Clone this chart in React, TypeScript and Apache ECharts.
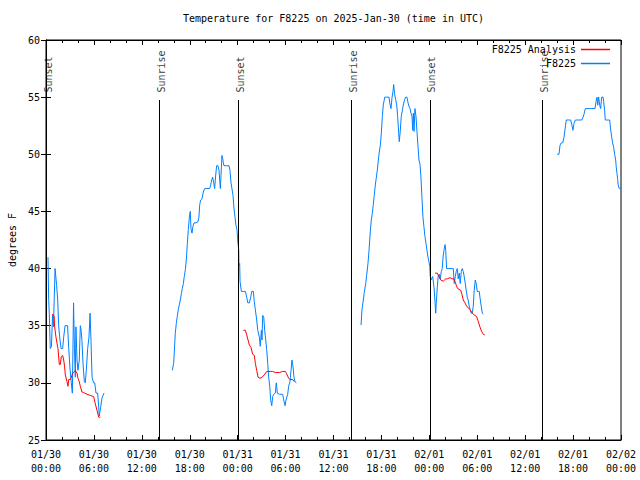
import React, { useEffect, useRef } from "react";
import * as echarts from "echarts";

// Time values are minutes after 2025-01-30 00:00 UTC; temperatures in degrees F.
const TITLE = "Temperature for F8225 on 2025-Jan-30 (time in UTC)";
const Y_NAME = "degrees F";
const OBS_NAME = "F8225";
const ANA_NAME = "F8225 Analysis";

const yTicks = { min: 25, max: 60, step: 5 };
const xRange = { min: 0, max: 4320, step: 360 };

const sunEvents: [number, string][] = [
  [2, "Sunset"],
  [852, "Sunrise"],
  [1443, "Sunset"],
  [2294, "Sunrise"],
  [2884, "Sunset"],
  [3731, "Sunrise"],
];
const sunLineTop = 54.75;

const obs1: [number, number][] = [
  [15, 41.0], [20, 37.3], [25, 36.0], [32, 33.0], [41, 33.2], [49, 35.9], [56, 34.9],
  [68, 40.0], [73, 40.0], [80, 38.5], [88, 37.25], [95, 35.0], [103, 34.0], [113, 33.0],
  [125, 33.0], [133, 34.0], [143, 35.0], [162, 35.0], [171, 33.0], [180, 31.3], [190, 30.0],
  [198, 29.1], [207, 37.0], [214, 33.0], [220, 30.5], [225, 34.9], [233, 32.0], [240, 31.1],
  [250, 32.0], [258, 35.0], [265, 34.5], [270, 33.7], [278, 31.7], [288, 30.1], [295, 30.0],
  [303, 31.1], [313, 33.0], [323, 34.0], [331, 36.1], [338, 33.7], [346, 30.5], [358, 30.0],
  [366, 30.0], [376, 29.1], [388, 29.1], [396, 27.9], [400, 27.1], [411, 27.9], [421, 28.7],
  [436, 29.1],
];
const obs2: [number, number][] = [
  [949, 31.1], [959, 31.7], [964, 32.7], [971, 34.3], [979, 35.2], [986, 35.8], [994, 36.4],
  [1001, 36.8], [1009, 37.25], [1017, 37.8], [1024, 38.25], [1032, 38.7], [1039, 39.3],
  [1047, 39.9], [1054, 40.75], [1062, 42.2], [1069, 43.4], [1077, 44.5], [1084, 45.0],
  [1089, 43.5], [1097, 43.1], [1104, 43.7], [1112, 44.0], [1127, 44.0], [1142, 44.1],
  [1149, 44.5], [1155, 45.6], [1162, 46.0], [1172, 46.1], [1182, 46.7], [1192, 47.0],
  [1204, 47.0], [1230, 47.0], [1237, 47.3], [1245, 47.75], [1252, 48.0], [1260, 47.5],
  [1267, 47.0], [1275, 48.2], [1282, 49.0], [1292, 49.0], [1300, 48.6], [1305, 47.75],
  [1310, 47.0], [1315, 48.2], [1322, 49.9], [1328, 49.6], [1332, 49.3], [1337, 49.0],
  [1355, 49.0], [1375, 49.0], [1382, 48.6], [1390, 47.5], [1397, 47.0], [1405, 46.4],
  [1412, 45.3], [1420, 44.5], [1427, 43.8], [1435, 43.4], [1440, 42.5], [1448, 41.6],
  [1450, 40.3], [1455, 40.45], [1458, 38.85], [1468, 38.0], [1483, 38.0], [1498, 38.0],
  [1508, 37.5], [1516, 37.0], [1528, 37.0], [1538, 37.5], [1546, 38.0], [1558, 38.0],
  [1565, 37.1], [1573, 36.4], [1583, 35.5], [1591, 34.6], [1603, 34.0], [1610, 33.2],
  [1618, 34.6], [1623, 33.75], [1628, 35.9], [1636, 35.75], [1643, 34.6], [1651, 33.75],
  [1658, 32.9], [1666, 31.7], [1673, 30.5], [1681, 29.7], [1688, 28.5], [1696, 28.0],
  [1703, 28.8], [1711, 29.0], [1723, 29.1], [1730, 30.0], [1738, 29.1], [1753, 29.0],
  [1766, 29.0], [1778, 29.0], [1786, 28.5], [1796, 28.0], [1803, 28.5], [1816, 29.0],
  [1823, 29.7], [1833, 30.1], [1841, 31.1], [1848, 32.0], [1856, 31.4], [1863, 30.5],
  [1871, 30.1], [1881, 30.0],
];
const obs3: [number, number][] = [
  [2367, 35.06], [2374, 36.4], [2384, 37.25], [2391, 37.9], [2402, 38.7], [2409, 39.4],
  [2419, 40.45], [2427, 41.6], [2436, 43.2], [2444, 44.25], [2451, 44.8], [2459, 45.6],
  [2466, 46.4], [2474, 47.3], [2481, 47.9], [2489, 48.6], [2497, 49.5], [2504, 50.2],
  [2512, 50.8], [2519, 51.8], [2527, 53.3], [2534, 54.3], [2545, 55.0], [2560, 55.0],
  [2577, 55.0], [2584, 54.4], [2592, 54.0], [2600, 55.0], [2607, 55.5], [2612, 56.1],
  [2620, 55.2], [2627, 54.8], [2635, 54.3], [2642, 53.3], [2650, 51.8], [2654, 51.1],
  [2662, 52.1], [2669, 53.3], [2677, 53.8], [2684, 54.3], [2695, 54.8], [2702, 55.0],
  [2712, 55.0], [2720, 54.5], [2727, 54.2], [2735, 54.0], [2742, 53.6], [2750, 53.3],
  [2755, 52.1], [2760, 53.6], [2765, 52.0], [2772, 54.0], [2780, 53.3], [2787, 52.0],
  [2795, 50.7], [2802, 49.5], [2810, 49.1], [2817, 48.0], [2825, 46.1], [2832, 44.5],
  [2840, 43.6], [2847, 42.8], [2855, 42.2], [2862, 41.6], [2870, 41.0], [2877, 40.6],
  [2883, 40.2], [2887, 39.3], [2892, 39.0], [2905, 39.3], [2915, 38.4], [2923, 37.0],
  [2928, 36.1], [2932, 37.0], [2940, 38.4], [2947, 39.4], [2955, 39.5], [2962, 39.1],
  [2970, 39.75], [2977, 40.0], [2983, 41.0], [2990, 41.6], [2998, 42.1], [3003, 41.6],
  [3010, 40.0], [3022, 40.0], [3048, 40.0], [3060, 40.0], [3067, 38.7], [3075, 39.3],
  [3082, 39.75], [3090, 40.0], [3097, 39.1], [3105, 39.6], [3112, 38.7], [3120, 39.75],
  [3127, 40.0], [3135, 39.75], [3142, 39.3], [3150, 38.7], [3157, 38.1], [3165, 37.5],
  [3172, 37.25], [3180, 36.7], [3187, 36.4], [3195, 36.1], [3202, 36.1], [3210, 36.7],
  [3217, 38.1], [3225, 39.0], [3232, 38.7], [3240, 38.0], [3255, 38.0], [3263, 37.25],
  [3270, 36.7], [3278, 36.1], [3285, 36.0],
];
const obs4: [number, number][] = [
  [3841, 50.0], [3854, 50.0], [3862, 50.8], [3871, 51.0], [3882, 51.0], [3892, 51.5],
  [3902, 52.4], [3909, 53.0], [3924, 53.0], [3942, 53.0], [3952, 52.5], [3959, 52.1],
  [3967, 52.7], [3977, 53.0], [3999, 53.0], [4025, 53.0], [4034, 53.2], [4042, 53.5],
  [4052, 54.0], [4074, 54.0], [4100, 54.0], [4125, 54.0], [4132, 54.6], [4140, 55.0],
  [4145, 54.3], [4152, 55.0], [4160, 54.3], [4167, 54.0], [4175, 55.0], [4185, 55.0],
  [4190, 54.6], [4197, 53.8], [4202, 53.0], [4212, 53.0], [4224, 53.0], [4235, 53.0],
  [4242, 52.2], [4250, 51.5], [4257, 51.0], [4265, 50.6], [4272, 50.0], [4280, 49.5],
  [4284, 48.9], [4290, 48.3], [4295, 47.8], [4299, 47.3], [4307, 47.0], [4317, 47.0],
];

const ana1: [number, number][] = [
  [45, 36.0], [60, 35.9], [65, 34.9], [75, 34.0], [90, 33.0], [100, 31.6], [107, 31.6],
  [115, 32.3], [125, 32.4], [133, 32.0], [140, 31.4], [145, 30.7], [158, 30.1], [165, 29.7],
  [171, 30.3], [183, 30.3], [190, 30.5], [201, 30.85], [213, 31.0], [220, 31.1], [233, 30.85],
  [240, 30.4], [250, 30.1], [258, 29.7], [270, 29.2], [283, 29.15], [308, 29.0], [333, 28.9],
  [358, 28.8], [370, 28.2], [383, 27.6], [396, 27.0], [408, 27.0],
];
const ana2: [number, number][] = [
  [1483, 34.6], [1498, 34.6], [1508, 34.2], [1518, 33.75], [1528, 33.3], [1540, 33.1],
  [1553, 32.5], [1565, 32.4], [1573, 31.7], [1583, 31.1], [1593, 30.5], [1608, 30.4],
  [1623, 30.5], [1640, 30.7], [1658, 31.0], [1673, 31.0], [1688, 31.0], [1703, 31.0],
  [1723, 30.9], [1753, 30.9], [1778, 31.0], [1798, 31.0], [1808, 30.8], [1823, 30.4],
  [1833, 30.3], [1853, 30.3], [1865, 30.1],
];
const ana3: [number, number][] = [
  [2923, 39.6], [2940, 39.6], [2953, 39.3], [2965, 39.0], [2985, 38.9], [3003, 39.1],
  [3015, 39.1], [3035, 39.2], [3055, 39.1], [3065, 39.1], [3075, 38.8], [3086, 38.4],
  [3098, 38.2], [3116, 38.1], [3126, 37.7], [3135, 37.25], [3148, 37.0], [3160, 36.7],
  [3172, 36.6], [3185, 36.4], [3198, 36.2], [3210, 36.0], [3223, 35.9], [3235, 35.8],
  [3247, 35.4], [3260, 34.9], [3273, 34.5], [3285, 34.25], [3296, 34.2],
];

const obsParts = [obs1, obs2, obs3, obs4];
const anaParts = [ana1, ana2, ana3];

const OBS_COLOR = "#0080ff";
const ANA_COLOR = "#ff0000";
const FONT = "DejaVu Sans Mono";

function pad(n: number) {
  return n < 10 ? "0" + n : "" + n;
}
function fmtX(v: number) {
  const dayIdx = Math.floor(v / 1440);
  const mins = v - dayIdx * 1440;
  let month = 1;
  let day = 30 + dayIdx;
  if (day > 31) {
    month = 2;
    day -= 31;
  }
  return pad(month) + "/" + pad(day) + "\n" + pad(Math.floor(mins / 60)) + ":" + pad(mins % 60);
}

export default function App() {
  const ref = useRef<HTMLDivElement>(null);
  useEffect(() => {
    if (!ref.current) return;
    const chart = echarts.init(ref.current, undefined, { renderer: "svg" });
    const txt = { fontFamily: FONT, fontSize: 10, color: "#000" };
    const lineSeries = (name: string, color: string, data: [number, number][]) => ({
      type: "line",
      name,
      data,
      showSymbol: false,
      symbol: "none",
      color,
      lineStyle: { color, width: 1 },
      itemStyle: { color },
      silent: true,
      z: 3,
    });
    const xBase = {
      type: "value",
      min: xRange.min,
      max: xRange.max,
      interval: xRange.step,
      splitLine: { show: false },
      axisLine: { show: true, lineStyle: { color: "#000", width: 1 } },
      axisTick: { show: true, inside: true, length: 5, lineStyle: { color: "#000" } },
      minorTick: { show: true, splitNumber: 3, length: 3, lineStyle: { color: "#000" } },
    };
    const yBase = {
      type: "value",
      min: yTicks.min,
      max: yTicks.max,
      interval: yTicks.step,
      splitLine: { show: false },
      axisLine: { show: true, lineStyle: { color: "#000", width: 1 } },
      axisTick: { show: true, inside: true, length: 5, lineStyle: { color: "#000" } },
    };
    chart.setOption({
      animation: false,
      backgroundColor: "#fff",
      title: {
        text: TITLE,
        left: 183,
        top: 13,
        padding: 0,
        textStyle: { ...txt, fontWeight: "normal" },
      },
      legend: {
        data: [ANA_NAME, OBS_NAME],
        orient: "vertical",
        align: "right",
        right: 30,
        top: 43,
        padding: 0,
        itemGap: 1,
        itemWidth: 29,
        itemHeight: 1.5,
        icon: "rect",
        textStyle: { ...txt, lineHeight: 13 },
        selectedMode: false,
      },
      grid: {
        left: 46,
        right: 19,
        top: 40,
        bottom: 40,
        show: true,
        borderColor: "#000",
        borderWidth: 1,
        containLabel: false,
        outerBoundsMode: "none",
      },
      xAxis: [
        {
          ...xBase,
          position: "bottom",
          axisLabel: {
            ...txt,
            margin: 7,
            lineHeight: 14,
            showMinLabel: true,
            showMaxLabel: true,
            formatter: (v: number) => fmtX(v),
          },
        },
        { ...xBase, position: "top", axisLabel: { show: false } },
      ],
      yAxis: [
        {
          ...yBase,
          position: "left",
          name: Y_NAME,
          nameLocation: "middle",
          nameRotate: 90,
          nameGap: 29,
          nameTextStyle: txt,
          axisLabel: { ...txt, margin: 6 },
        },
        { ...yBase, position: "right", axisLabel: { show: false } },
      ],
      series: [
        ...obsParts.map((p) => lineSeries(OBS_NAME, OBS_COLOR, p)),
        ...anaParts.map((p) => lineSeries(ANA_NAME, ANA_COLOR, p)),
        {
          type: "scatter",
          name: "sun",
          data: sunEvents.map(([t, label]) => [t, sunLineTop, label]),
          symbolSize: 1,
          itemStyle: { color: "rgba(0,0,0,0)" },
          clip: false,
          silent: true,
          label: {
            show: true,
            ...txt,
            position: "top",
            distance: 7,
            rotate: 90,
            align: "left",
            verticalAlign: "middle",
            offset: [0, 2],
            formatter: (p: any) => p.value[2],
          },
          markLine: {
            silent: true,
            symbol: ["none", "none"],
            label: { show: false },
            lineStyle: { color: "#000", width: 1, type: "solid" },
            data: sunEvents.map(([t]) => [
              { coord: [t, yTicks.min] },
              { coord: [t, sunLineTop] },
            ]),
          },
          z: 2,
        },
      ],
    });
    return () => chart.dispose();
  }, []);
  return (
    <div
      ref={ref}
      style={{ position: "fixed", left: 0, top: 0, width: 640, height: 480, background: "#fff" }}
    />
  );
}
